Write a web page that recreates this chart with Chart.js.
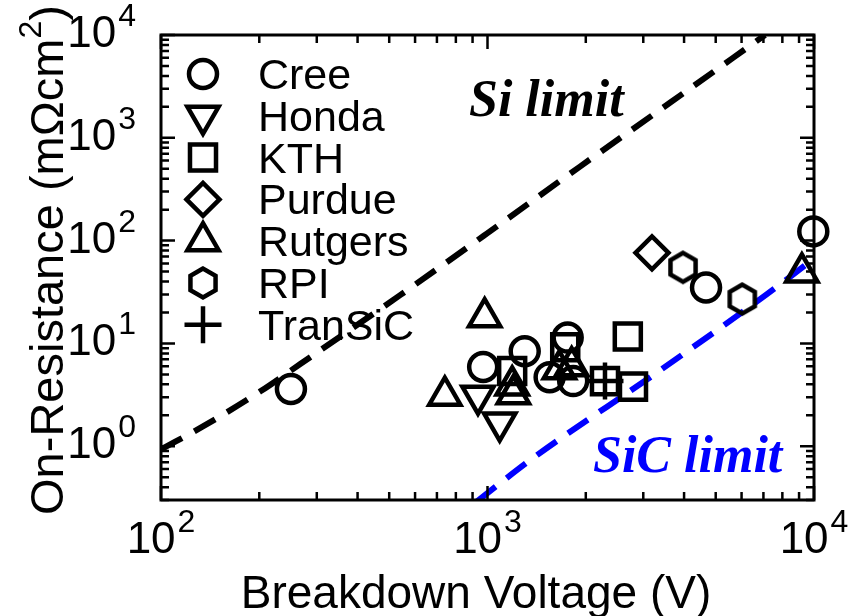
<!DOCTYPE html>
<html>
<head>
<meta charset="utf-8">
<script src="https://cdn.jsdelivr.net/npm/chart.js@4.4.0/dist/chart.umd.min.js"></script>
<style>
    html, body { margin: 0; padding: 0; background: #fff; }
    #chart { display: block; }
</style>
</head>
<body>
<canvas id="chart" width="858" height="616"></canvas>
<script>
// Dados (V de ruptura em V, resistência em mOhm.cm2)
const creeV = [250, 970, 1300, 1760, 1550, 1830, 4670, 9950];
const creeR = [3.6, 5.9, 8.4, 11.4, 4.7, 4.3, 35, 123];
const hondaV = [935, 1090];
const hondaR = [3.1, 1.7];
const kthV = [1190, 1730, 2690, 2790, 2290];
const kthR = [5.4, 9.2, 11.7, 3.8, 4.3];
const purdueV = [3190];
const purdueR = [76];
const rutgersV = [980, 740, 1190, 1200, 1660, 1810, 9180];
const rutgersR = [18, 3.1, 3.9, 3.2, 5.6, 6.0, 49];
const rpiV = [3970, 6030];
const rpiR = [55, 27];
const transicV = [2290];
const transicR = [4.3];

// Curvas de limite (pontos lidos ao longo das linhas tracejadas)
const siLimitV = [100, 134, 201, 267, 540, 995, 1920, 3620, 7080];
const siLimitR = [0.93, 1.55, 3.4, 6.3, 29.5, 117, 525, 2190, 10000];
const sicLimitV = [927, 1364, 3300, 7160, 9725];
const sicLimitR = [0.29, 0.75, 5.2, 30, 62.5];

// Eixos
const xRange = [100, 10000];
const yRange = [0.3, 10000];
const xDecades = [2, 3, 4];
const yDecades = [0, 1, 2, 3, 4];

const SANS = '"Liberation Sans", Arial, sans-serif';
const SERIF = '"Liberation Serif", "Times New Roman", serif';

function toPoints(xs, ys) {
    return xs.map((x, i) => ({ x: x, y: ys[i] }));
}

/**
 * Hexágono (RPI) desenhado num canvas auxiliar
 */
function makeHexagon(r, lw) {
    const size = Math.ceil(2 * r + lw + 4);
    const c = document.createElement('canvas');
    c.width = size;
    c.height = size;
    const ctx = c.getContext('2d');
    ctx.lineWidth = lw;
    ctx.strokeStyle = '#000';
    ctx.beginPath();
    for (let i = 0; i < 6; i++) {
        const a = Math.PI / 2 + i * Math.PI / 3;
        const px = size / 2 + r * Math.cos(a);
        const py = size / 2 - r * Math.sin(a);
        if (i === 0) ctx.moveTo(px, py); else ctx.lineTo(px, py);
    }
    ctx.closePath();
    ctx.stroke();
    return c;
}

function markerSet(label, xs, ys, style, radius, rotation) {
    return {
        label: label,
        data: toPoints(xs, ys),
        showLine: false,
        pointStyle: style,
        pointRadius: radius,
        pointHoverRadius: radius,
        pointRotation: rotation || 0,
        pointBorderWidth: 4.5,
        pointHoverBorderWidth: 4.5,
        pointBorderColor: '#000',
        pointBackgroundColor: 'rgba(0,0,0,0)',
        clip: false,
        isMarker: true
    };
}

function limitLine(label, xs, ys, color) {
    return {
        label: label,
        data: toPoints(xs, ys),
        showLine: true,
        pointRadius: 0,
        pointHoverRadius: 0,
        borderColor: color,
        borderWidth: 6,
        borderDash: [24, 14],
        borderCapStyle: 'butt',
        cubicInterpolationMode: 'monotone',
        fill: false,
        isMarker: false
    };
}

function logTickValues(min, max) {
    const vals = [];
    for (let e = Math.floor(Math.log10(min)); e <= Math.ceil(Math.log10(max)); e++) {
        for (let m = 1; m <= 9; m++) {
            const v = m * Math.pow(10, e);
            if (v >= min * 0.999 && v <= max * 1.001) vals.push({ v: v, major: m === 1 });
        }
    }
    return vals;
}

function drawPow10(ctx, exp, x, baseline, align) {
    ctx.font = '44px ' + SANS;
    const w1 = ctx.measureText('10').width;
    ctx.font = '32px ' + SANS;
    const w2 = ctx.measureText(String(exp)).width;
    const total = w1 + 2 + w2;
    let start = align === 'center' ? x - total / 2 : x - total;
    ctx.textAlign = 'left';
    ctx.textBaseline = 'alphabetic';
    ctx.font = '44px ' + SANS;
    ctx.fillText('10', start, baseline);
    ctx.font = '32px ' + SANS;
    ctx.fillText(String(exp), start + w1 + 2, baseline - 21);
}

const framePlugin = {
    id: 'frame',
    afterDatasetsDraw(chart) {
        const ctx = chart.ctx;
        const a = chart.chartArea;
        const xs = chart.scales.x;
        const ys = chart.scales.y;
        ctx.save();
        ctx.strokeStyle = '#000';
        ctx.fillStyle = '#000';
        ctx.lineWidth = 3;
        ctx.strokeRect(a.left, a.top, a.right - a.left, a.bottom - a.top);

        // marcas internas nos quatro lados
        ctx.lineWidth = 2.5;
        ctx.beginPath();
        logTickValues(xRange[0], xRange[1]).forEach(t => {
            const px = xs.getPixelForValue(t.v);
            const len = t.major ? 14 : 8;
            ctx.moveTo(px, a.bottom); ctx.lineTo(px, a.bottom - len);
            ctx.moveTo(px, a.top); ctx.lineTo(px, a.top + len);
        });
        logTickValues(yRange[0], yRange[1]).forEach(t => {
            const py = ys.getPixelForValue(t.v);
            const len = t.major ? 14 : 8;
            ctx.moveTo(a.left, py); ctx.lineTo(a.left + len, py);
            ctx.moveTo(a.right, py); ctx.lineTo(a.right - len, py);
        });
        ctx.stroke();

        // rótulos 10^n
        xDecades.forEach(e => {
            drawPow10(ctx, e, xs.getPixelForValue(Math.pow(10, e)), a.bottom + 53, 'center');
        });
        yDecades.forEach(e => {
            drawPow10(ctx, e, 136, ys.getPixelForValue(Math.pow(10, e)) + 12, 'right');
        });

        // títulos dos eixos
        ctx.font = '46px ' + SANS;
        ctx.textAlign = 'center';
        ctx.fillText('Breakdown Voltage (V)', 476, 608);

        ctx.translate(63, 260);
        ctx.rotate(-Math.PI / 2);
        const main = 'On-Resistance (mΩcm';
        ctx.font = '47px ' + SANS;
        const w1 = ctx.measureText(main).width;
        const w3 = ctx.measureText(')').width;
        ctx.font = '32px ' + SANS;
        const w2 = ctx.measureText('2').width;
        let tx = -(w1 + w2 + w3) / 2;
        ctx.textAlign = 'left';
        ctx.font = '47px ' + SANS;
        ctx.fillText(main, tx, 0);
        tx += w1;
        ctx.font = '32px ' + SANS;
        ctx.fillText('2', tx, -22);
        tx += w2;
        ctx.font = '47px ' + SANS;
        ctx.fillText(')', tx, 0);
        ctx.restore();

        // anotações das curvas
        ctx.save();
        ctx.font = 'italic bold 52px ' + SERIF;
        ctx.textAlign = 'left';
        ctx.textBaseline = 'alphabetic';
        ctx.fillStyle = '#000';
        ctx.fillText('Si limit', 469, 116);
        ctx.fillStyle = '#0000ff';
        ctx.fillText('SiC limit', 593, 472);
        ctx.restore();
    }
};

const legendPlugin = {
    id: 'customLegend',
    afterDraw(chart) {
        const ctx = chart.ctx;
        let row = 0;
        chart.data.datasets.forEach(ds => {
            if (!ds.isMarker) return;
            const y = 74 + row * 41.8;
            ctx.save();
            ctx.strokeStyle = '#000';
            ctx.fillStyle = 'rgba(0,0,0,0)';
            ctx.lineWidth = 4.5;
            Chart.helpers.drawPoint(ctx, {
                pointStyle: ds.pointStyle,
                radius: ds.pointRadius,
                rotation: ds.pointRotation,
                borderWidth: 4.5
            }, 203, y);
            ctx.fillStyle = '#000';
            ctx.font = '43px ' + SANS;
            ctx.textAlign = 'left';
            ctx.textBaseline = 'alphabetic';
            ctx.fillText(ds.label, 258, y + 15);
            ctx.restore();
            row++;
        });
    }
};

document.addEventListener('DOMContentLoaded', function () {
    const hexagon = makeHexagon(14.5, 4.5);

    new Chart(document.getElementById('chart'), {
        type: 'scatter',
        data: {
            datasets: [
                markerSet('Cree', creeV, creeR, 'circle', 14),
                markerSet('Honda', hondaV, hondaR, 'triangle', 18, 180),
                markerSet('KTH', kthV, kthR, 'rect', 18.4),
                markerSet('Purdue', purdueV, purdueR, 'rectRot', 16.5),
                markerSet('Rutgers', rutgersV, rutgersR, 'triangle', 18),
                markerSet('RPI', rpiV, rpiR, hexagon, 14.5),
                markerSet('TranSiC', transicV, transicR, 'cross', 18.5),
                limitLine('Si limit', siLimitV, siLimitR, '#000000'),
                limitLine('SiC limit', sicLimitV, sicLimitR, '#0000ff')
            ]
        },
        options: {
            responsive: false,
            animation: false,
            events: [],
            devicePixelRatio: 1,
            layout: {
                padding: { left: 161, top: 35, right: 44, bottom: 116 }
            },
            scales: {
                x: { type: 'logarithmic', min: xRange[0], max: xRange[1], display: false },
                y: { type: 'logarithmic', min: yRange[0], max: yRange[1], display: false }
            },
            plugins: {
                legend: { display: false },
                tooltip: { enabled: false }
            }
        },
        plugins: [framePlugin, legendPlugin]
    });
});
</script>
</body>
</html>
